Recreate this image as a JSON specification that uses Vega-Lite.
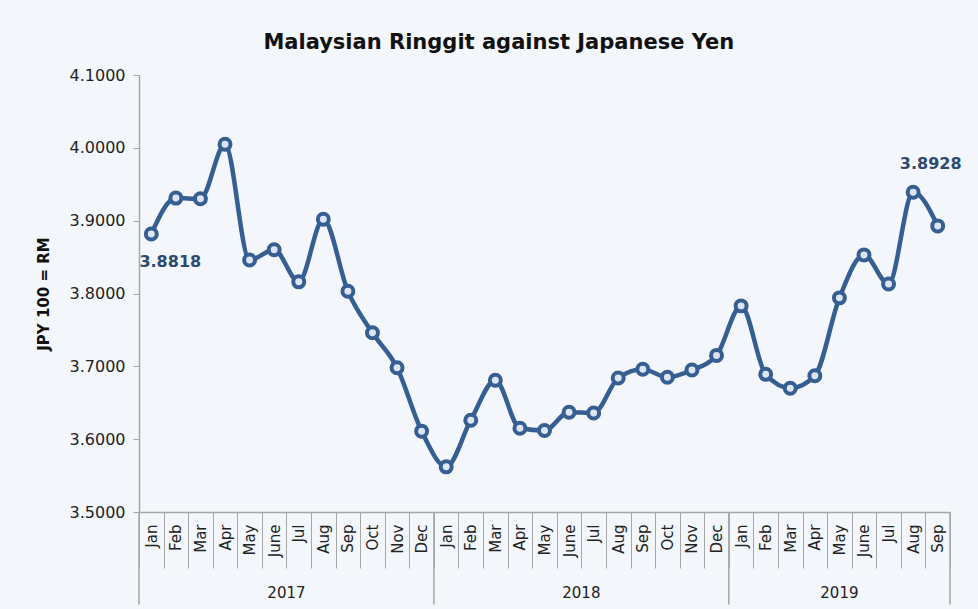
{
  "$schema": "https://vega.github.io/schema/vega-lite/v6.json",
  "width": 811,
  "height": 437,
  "autosize": {"type": "none"},
  "padding": {"left": 139, "top": 75, "right": 28, "bottom": 97},
  "background": "#F3F6FB",
  "title": {
    "text": "Malaysian Ringgit against Japanese Yen",
    "font": "DejaVu Sans",
    "fontSize": 21,
    "fontWeight": "bold",
    "color": "#111111",
    "anchor": "middle",
    "frame": "bounds",
    "offset": 14
  },
  "config": {
    "view": {"stroke": null},
    "font": "DejaVu Sans"
  },
  "data": {
    "values": [
      {"key": "2017-Jan", "month": "Jan", "year": "2017", "rate": 3.8818},
      {"key": "2017-Feb", "month": "Feb", "year": "2017", "rate": 3.931},
      {"key": "2017-Mar", "month": "Mar", "year": "2017", "rate": 3.930},
      {"key": "2017-Apr", "month": "Apr", "year": "2017", "rate": 4.005},
      {"key": "2017-May", "month": "May", "year": "2017", "rate": 3.846},
      {"key": "2017-June", "month": "June", "year": "2017", "rate": 3.860},
      {"key": "2017-Jul", "month": "Jul", "year": "2017", "rate": 3.816},
      {"key": "2017-Aug", "month": "Aug", "year": "2017", "rate": 3.902},
      {"key": "2017-Sep", "month": "Sep", "year": "2017", "rate": 3.803},
      {"key": "2017-Oct", "month": "Oct", "year": "2017", "rate": 3.746},
      {"key": "2017-Nov", "month": "Nov", "year": "2017", "rate": 3.698},
      {"key": "2017-Dec", "month": "Dec", "year": "2017", "rate": 3.611},
      {"key": "2018-Jan", "month": "Jan", "year": "2018", "rate": 3.562},
      {"key": "2018-Feb", "month": "Feb", "year": "2018", "rate": 3.626},
      {"key": "2018-Mar", "month": "Mar", "year": "2018", "rate": 3.681},
      {"key": "2018-Apr", "month": "Apr", "year": "2018", "rate": 3.615},
      {"key": "2018-May", "month": "May", "year": "2018", "rate": 3.612},
      {"key": "2018-June", "month": "June", "year": "2018", "rate": 3.637},
      {"key": "2018-Jul", "month": "Jul", "year": "2018", "rate": 3.636},
      {"key": "2018-Aug", "month": "Aug", "year": "2018", "rate": 3.684},
      {"key": "2018-Sep", "month": "Sep", "year": "2018", "rate": 3.696},
      {"key": "2018-Oct", "month": "Oct", "year": "2018", "rate": 3.685},
      {"key": "2018-Nov", "month": "Nov", "year": "2018", "rate": 3.695},
      {"key": "2018-Dec", "month": "Dec", "year": "2018", "rate": 3.715},
      {"key": "2019-Jan", "month": "Jan", "year": "2019", "rate": 3.783},
      {"key": "2019-Feb", "month": "Feb", "year": "2019", "rate": 3.689},
      {"key": "2019-Mar", "month": "Mar", "year": "2019", "rate": 3.670},
      {"key": "2019-Apr", "month": "Apr", "year": "2019", "rate": 3.687},
      {"key": "2019-May", "month": "May", "year": "2019", "rate": 3.794},
      {"key": "2019-June", "month": "June", "year": "2019", "rate": 3.853},
      {"key": "2019-Jul", "month": "Jul", "year": "2019", "rate": 3.813},
      {"key": "2019-Aug", "month": "Aug", "year": "2019", "rate": 3.939},
      {"key": "2019-Sep", "month": "Sep", "year": "2019", "rate": 3.8928}
    ]
  },
  "encoding": {
    "x": {
      "field": "key",
      "type": "ordinal",
      "sort": null,
      "bandPosition": 0.5,
      "scale": {"type": "band", "paddingInner": 0, "paddingOuter": 0},
      "axis": {
        "title": null,
        "labelExpr": "split(datum.value, '-')[1]",
        "labelAngle": -90,
        "labelAlign": "right",
        "labelBaseline": "middle",
        "labelFont": "DejaVu Sans",
        "labelFontSize": 15,
        "labelColor": "#222222",
        "labelPadding": -44,
        "tickBand": "extent",
        "tickSize": 56,
        "tickColor": "#A6A6A6",
        "domainColor": "#A6A6A6",
        "domainWidth": 1.5,
        "grid": false
      }
    },
    "y": {
      "field": "rate",
      "type": "quantitative",
      "scale": {"domain": [3.5, 4.1], "nice": false, "zero": false},
      "axis": {
        "title": "JPY 100 = RM",
        "titleFont": "DejaVu Sans",
        "titleFontSize": 15,
        "titleFontWeight": "bold",
        "titleColor": "#111111",
        "titlePadding": 18,
        "format": ".4f",
        "values": [3.5, 3.6, 3.7, 3.8, 3.9, 4.0, 4.1],
        "labelFont": "DejaVu Sans",
        "labelFontSize": 16,
        "labelColor": "#222222",
        "labelPadding": 8,
        "tickSize": 6,
        "tickColor": "#A6A6A6",
        "domainColor": "#A6A6A6",
        "domainWidth": 1.5,
        "grid": false
      }
    }
  },
  "layer": [
    {
      "mark": {"type": "line", "interpolate": "monotone", "color": "#355F92", "strokeWidth": 4.5}
    },
    {
      "mark": {"type": "point", "filled": true, "fill": "#DCE5F1", "stroke": "#355F92", "strokeWidth": 4, "size": 120, "opacity": 1}
    },
    {
      "transform": [{"filter": "datum.key === '2017-Jan'"}],
      "mark": {"type": "text", "fontSize": 16, "fontWeight": "bold", "color": "#2E4A6F", "dx": 19, "dy": 28, "font": "DejaVu Sans"},
      "encoding": {"text": {"field": "rate", "type": "quantitative", "format": ".4f"}}
    },
    {
      "transform": [{"filter": "datum.key === '2019-Sep'"}],
      "mark": {"type": "text", "fontSize": 16, "fontWeight": "bold", "color": "#2E4A6F", "dx": -7, "dy": -62, "font": "DejaVu Sans"},
      "encoding": {"text": {"field": "rate", "type": "quantitative", "format": ".4f"}}
    },
    {
      "transform": [{"filter": "datum.month === 'Jan'"}],
      "mark": {"type": "rule", "color": "#A6A6A6", "strokeWidth": 1.5},
      "encoding": {
        "x": {"field": "key", "type": "ordinal", "sort": null, "bandPosition": 0},
        "y": {"datum": 3.5},
        "y2": {"datum": 3.373}
      }
    },
    {
      "transform": [{"filter": "datum.key === '2019-Sep'"}],
      "mark": {"type": "rule", "color": "#A6A6A6", "strokeWidth": 1.5},
      "encoding": {
        "x": {"field": "key", "type": "ordinal", "sort": null, "bandPosition": 1},
        "y": {"datum": 3.5},
        "y2": {"datum": 3.373}
      }
    },
    {
      "transform": [{"filter": "datum.key === '2017-June' || datum.key === '2018-June'"}],
      "mark": {"type": "text", "fontSize": 15, "color": "#222222", "font": "DejaVu Sans"},
      "encoding": {
        "x": {"field": "key", "type": "ordinal", "sort": null, "bandPosition": 1},
        "y": {"datum": 3.389},
        "text": {"field": "year"}
      }
    },
    {
      "transform": [{"filter": "datum.key === '2019-May'"}],
      "mark": {"type": "text", "fontSize": 15, "color": "#222222", "font": "DejaVu Sans"},
      "encoding": {
        "x": {"field": "key", "type": "ordinal", "sort": null, "bandPosition": 0.5},
        "y": {"datum": 3.389},
        "text": {"field": "year"}
      }
    }
  ]
}
